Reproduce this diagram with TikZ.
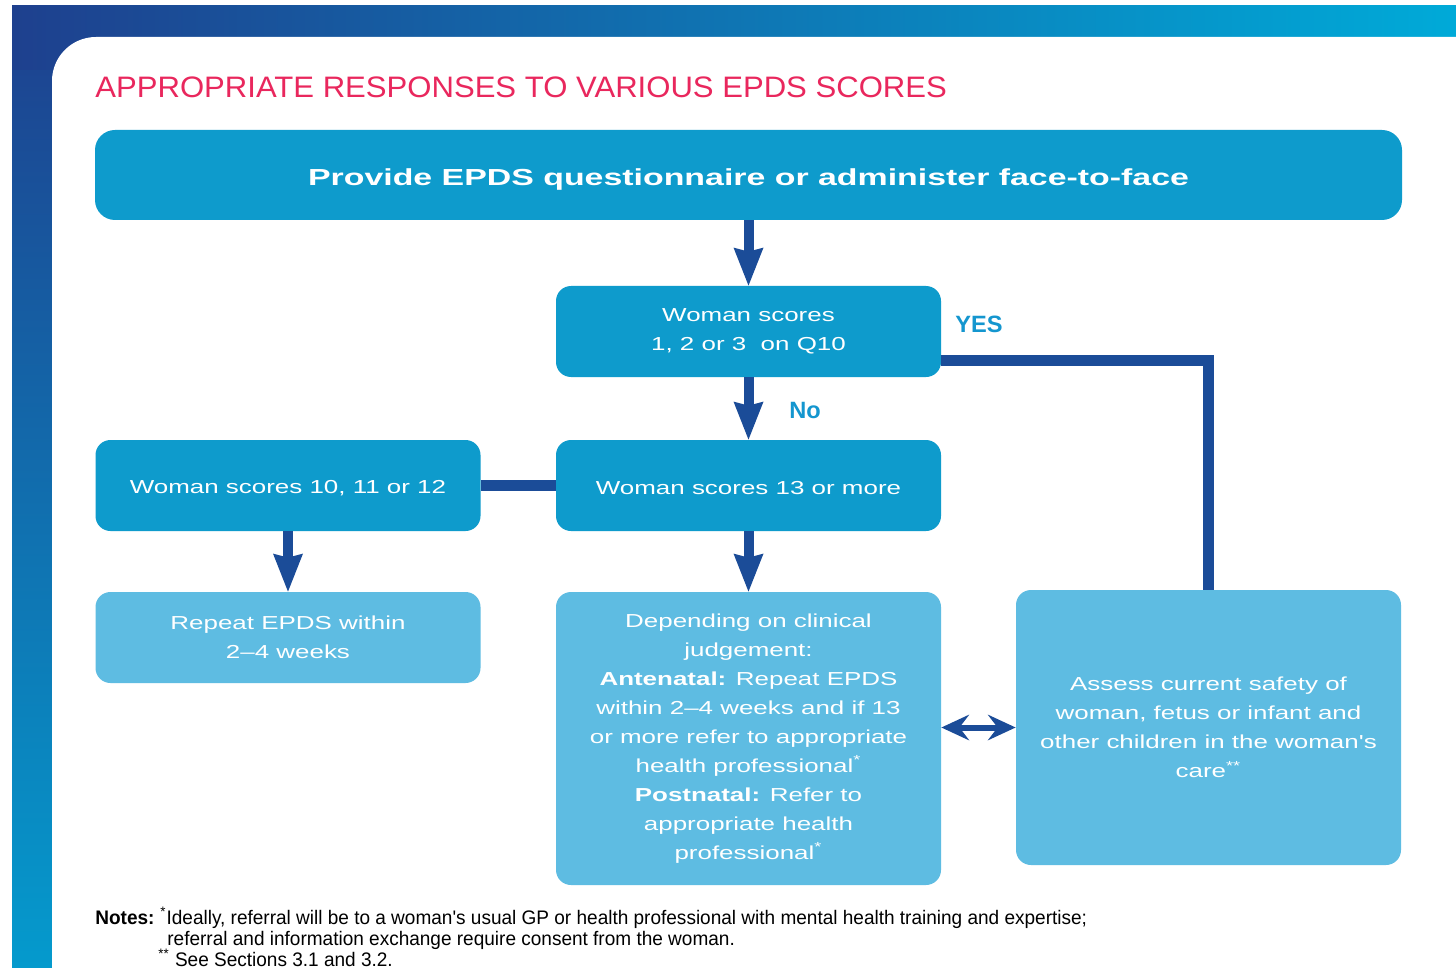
\documentclass[tikz,border=0pt]{standalone}
\usepackage{fontspec}
\setmainfont{Liberation Sans}
\newfontfamily\titlefont[FakeStretch=1.05]{Liberation Sans}
\newfontfamily\headfont[FakeStretch=1.46]{Liberation Sans}
\newfontfamily\boxfont[FakeStretch=1.38]{Liberation Sans}
\newfontfamily\notefont[FakeStretch=0.97]{Liberation Sans}
\usepackage{xcolor}
\definecolor{EpdsCyan}{RGB}{14,155,204}
\definecolor{EpdsLight}{RGB}{94,188,226}
\definecolor{EpdsNavy}{RGB}{27,76,152}
\definecolor{EpdsPink}{RGB}{233,39,93}
\definecolor{EpdsLabel}{RGB}{20,150,207}
\definecolor{FrameNavy}{RGB}{30,64,142}
\definecolor{FrameMid}{RGB}{10,128,188}
\definecolor{FrameCyan}{RGB}{0,170,216}
\usepackage{tikz}
\usetikzlibrary{arrows.meta}

\begin{document}
\begin{tikzpicture}[x=0.5pt, y=-0.5pt,
    caja/.style={fill=EpdsCyan, text=white, rounded corners=7.5pt, align=center,
      minimum width=192.5pt, minimum height=45.5pt, inner sep=0pt,
      font=\boxfont\fontsize{9.4}{14.5}\selectfont},
    cajaclara/.style={caja, fill=EpdsLight},
    flecha/.style={EpdsNavy, line width=5pt,
      -{Stealth[length=19pt, width=15pt, inset=2pt, line width=0pt]}},
    enlace/.style={EpdsNavy, line width=5.5pt},
    doble/.style={EpdsNavy, line width=3pt,
      {Stealth[length=14pt, width=13pt, inset=5pt, line width=0pt]}-{Stealth[length=14pt, width=13pt, inset=5pt, line width=0pt]}},
    etiqueta/.style={text=EpdsLabel, inner sep=0pt, anchor=base west,
      font=\bfseries\fontsize{11.8}{14}\selectfont},
    nota/.style={inner sep=0pt, anchor=base west, font=\notefont\fontsize{9.8}{11}\selectfont}]
  \useasboundingbox (0,0) rectangle (1456,968);
  % Marco de fondo
  \shade[top color=FrameNavy, bottom color=FrameCyan!85!FrameNavy] (12,6) rectangle (70,968);
  \shade[left color=FrameNavy, middle color=FrameMid, right color=FrameCyan] (12,6) rectangle (1456,70);
  \fill[white] (52,968) [rounded corners=22pt] -- (52,37) [sharp corners] -- (1456,37) -- (1456,968) -- cycle;
  % Titulo
  \node[inner sep=0pt, anchor=base west, text=EpdsPink,
    font=\titlefont\fontsize{14.8}{16}\selectfont] (titulo) at (95,98)
    {APPROPRIATE RESPONSES TO VARIOUS EPDS SCORES};
  % Cajas del diagrama
  \node[caja, minimum width=653.5pt, minimum height=45pt, rounded corners=10pt,
    font=\headfont\bfseries\fontsize{11.6}{14}\selectfont] (provide) at (748.5,175)
    {\raisebox{-2.5pt}[\height][\depth]{Provide EPDS questionnaire or administer face-to-face}};
  \node[caja] (q10) at (748.5,331.5) {Woman scores\\1, 2 or 3\ \ on Q10};
  \node[caja] (trece) at (748.5,485.5) {\raisebox{-1.5pt}[\height][\depth]{Woman scores 13 or more}};
  \node[caja] (diez) at (288,485.5) {\raisebox{-1.5pt}[\height][\depth]{Woman scores 10, 11 or 12}};
  \node[cajaclara] (repetir) at (288,637.5) {Repeat EPDS within\\2–4 weeks};
  \node[cajaclara, minimum height=146.5pt] (juicio) at (748.5,738.5)
    {Depending on clinical\\judgement:\\\textbf{Antenatal:} Repeat EPDS\\within 2–4 weeks and if 13\\or more refer to appropriate\\health professional\textsuperscript{*}\\\textbf{Postnatal:} Refer to\\appropriate health\\professional\textsuperscript{*}};
  \node[cajaclara, minimum height=137.5pt] (evaluar) at (1208.5,727.5)
    {Assess current safety of\\woman, fetus or infant and\\other children in the woman's\\care\textsuperscript{**}};
  % Flechas y enlaces
  \draw[flecha] (provide) -- (q10);
  \draw[flecha] (q10) -- (trece);
  \draw[flecha] (diez) -- (repetir);
  \draw[flecha] (trece) -- (juicio);
  \draw[enlace] (diez) -- (trece);
  \draw[enlace] ([yshift=-14.25pt]q10.east) -| (evaluar.north);
  \draw[doble] (juicio.east |- evaluar.west) -- (evaluar.west);
  \node[etiqueta] (si) at (955,332) {YES};
  \node[etiqueta] (no) at (789,418) {No};
  % Notas
  \node[nota, font=\notefont\bfseries\fontsize{9.8}{11}\selectfont] (notas) at (95,924) {Notes:};
  \node[nota] (notaA) at (160,924) {\textsuperscript{*}Ideally, referral will be to a woman's usual GP or health professional with mental health training and expertise;};
  \node[nota] (notaB) at (167,945) {referral and information exchange require consent from the woman.};
  \node[nota] (notaC) at (158,966) {\textsuperscript{**} See Sections 3.1 and 3.2.};
\end{tikzpicture}
\end{document}
